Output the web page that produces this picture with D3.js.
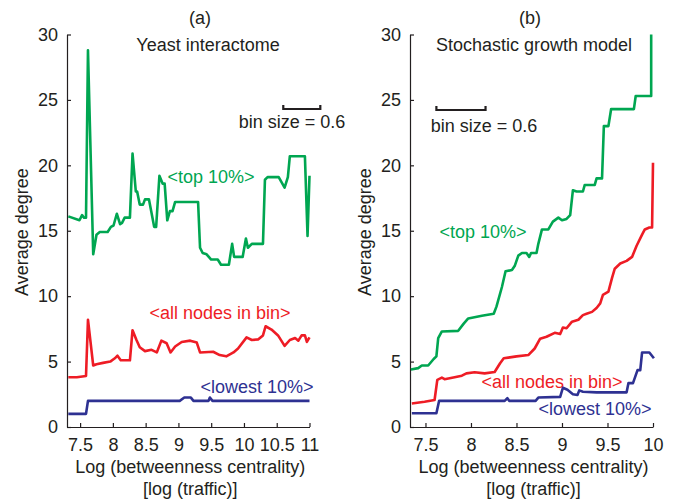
<!DOCTYPE html>
<html>
<head>
<meta charset="utf-8">
<script src="https://cdn.jsdelivr.net/npm/d3@7"></script>
<style>
  body { margin: 0; background: #fff; }
  svg text { font-family: "Liberation Sans", Arial, Helvetica, sans-serif; }
</style>
</head>
<body>
<svg id="chart" width="674" height="502"></svg>
<script>
// ---- data: [log betweenness, average degree] ----
const yeastTop = [
	[7.32, 16.1], [7.49, 15.8], [7.53, 16.2], [7.56, 16.0], [7.59, 16.0], [7.62, 28.8],
	[7.70, 13.2], [7.75, 14.7], [7.80, 14.9], [7.92, 14.9], [7.97, 15.3], [8.01, 15.4],
	[8.06, 16.3], [8.11, 15.5], [8.14, 15.6], [8.18, 16.0], [8.26, 16.0], [8.30, 20.9],
	[8.35, 18.0], [8.37, 18.0], [8.41, 17.0], [8.46, 17.0], [8.49, 17.4], [8.55, 17.4],
	[8.63, 15.3], [8.66, 15.3], [8.71, 19.2], [8.76, 18.6], [8.79, 18.6], [8.83, 15.8],
	[8.87, 16.5], [8.91, 16.5], [8.95, 17.2], [9.30, 17.2], [9.33, 13.7], [9.37, 13.3],
	[9.43, 13.2], [9.50, 12.8], [9.60, 12.8], [9.65, 12.4], [9.77, 12.4], [9.82, 14.0],
	[9.85, 13.0], [9.98, 13.0], [10.03, 14.4], [10.06, 13.7], [10.12, 14.0], [10.29, 14.0],
	[10.32, 18.9], [10.36, 19.1], [10.53, 19.1], [10.62, 18.3], [10.67, 19.1], [10.70, 20.7],
	[10.93, 20.7], [10.97, 14.6], [11.0, 19.2]
];
const yeastAll = [
	[7.32, 3.8], [7.45, 3.8], [7.59, 3.9], [7.62, 8.2], [7.70, 4.7], [7.75, 4.8],
	[7.85, 4.9], [7.96, 5.0], [8.03, 5.25], [8.07, 5.45], [8.12, 5.1], [8.26, 5.1],
	[8.30, 7.4], [8.36, 6.65], [8.41, 6.1], [8.49, 5.8], [8.59, 5.9], [8.67, 5.7],
	[8.74, 6.6], [8.82, 6.4], [8.88, 5.7], [8.95, 6.15], [9.05, 6.5], [9.18, 6.6],
	[9.28, 6.45], [9.33, 5.7], [9.53, 5.75], [9.63, 5.5], [9.73, 5.4], [9.84, 5.7],
	[9.91, 6.0], [10.04, 6.85], [10.12, 6.65], [10.22, 6.7], [10.29, 7.0], [10.33, 7.7],
	[10.42, 7.45], [10.52, 7.0], [10.62, 6.2], [10.70, 6.65], [10.78, 6.8], [10.83, 6.6],
	[10.88, 7.0], [10.93, 7.0], [10.96, 6.5], [11.0, 6.85]
];
const yeastLow = [
	[7.32, 1.0], [7.59, 1.0], [7.62, 2.0], [9.02, 2.0], [9.09, 2.25], [9.19, 2.25],
	[9.23, 2.0], [9.46, 2.0], [9.48, 2.25], [9.52, 2.0], [11.0, 2.0]
];
const modelTop = [
	[7.34, 4.4], [7.42, 4.5], [7.46, 4.7], [7.53, 4.7], [7.59, 5.2], [7.62, 5.4],
	[7.64, 6.8], [7.68, 7.3], [7.86, 7.35], [7.92, 7.9], [7.97, 8.3], [8.12, 8.5],
	[8.25, 8.65], [8.28, 9.2], [8.34, 10.7], [8.38, 11.9], [8.45, 12.0], [8.48, 12.3],
	[8.52, 13.1], [8.56, 13.3], [8.61, 13.3], [8.64, 13.0], [8.66, 13.3], [8.72, 13.3],
	[8.74, 14.0], [8.78, 15.1], [8.85, 15.1], [8.90, 15.7], [8.96, 16.0], [9.0, 15.8],
	[9.05, 15.9], [9.09, 16.2], [9.12, 18.1], [9.16, 18.0], [9.23, 18.0], [9.25, 18.5],
	[9.36, 18.5], [9.38, 19.0], [9.44, 19.0], [9.46, 23.0], [9.51, 23.0], [9.54, 24.3],
	[9.79, 24.3], [9.81, 25.3], [9.98, 25.3], [9.98, 30.0]
];
const modelAll = [
	[7.35, 1.8], [7.49, 1.93], [7.60, 2.06], [7.63, 3.6], [7.68, 3.77], [7.71, 3.65],
	[7.82, 3.8], [7.90, 3.92], [7.95, 4.1], [8.04, 4.18], [8.15, 4.1], [8.26, 4.2],
	[8.32, 4.87], [8.36, 5.25], [8.41, 5.3], [8.50, 5.4], [8.63, 5.5], [8.70, 6.0],
	[8.76, 6.75], [8.83, 6.9], [8.92, 7.2], [8.98, 7.1], [9.01, 7.6], [9.05, 7.55],
	[9.11, 8.05], [9.18, 8.2], [9.23, 8.55], [9.27, 8.65], [9.33, 8.8], [9.38, 9.1],
	[9.42, 9.45], [9.45, 10.1], [9.51, 10.35], [9.55, 11.4], [9.58, 12.1], [9.64, 12.5],
	[9.71, 12.7], [9.77, 13.0], [9.82, 13.85], [9.88, 14.7], [9.91, 15.1], [9.96, 15.25],
	[9.99, 15.25], [10.0, 20.2]
];
const modelLow = [
	[7.35, 1.05], [7.62, 1.05], [7.65, 2.0], [8.37, 2.0], [8.40, 2.2], [8.42, 2.0],
	[8.71, 2.0], [8.74, 2.25], [8.98, 2.3], [9.01, 3.0], [9.06, 2.85], [9.12, 2.5],
	[9.17, 2.45], [9.19, 2.8], [9.23, 2.7], [9.38, 2.65], [9.71, 2.65], [9.73, 3.35],
	[9.78, 3.35], [9.83, 4.35], [9.86, 4.35], [9.88, 5.7], [9.96, 5.7], [10.01, 5.25]
];

const yTicks = [0, 5, 10, 15, 20, 25, 30];
const yeastXTicks = [7.5, 8, 8.5, 9, 9.5, 10, 10.5, 11];
const modelXTicks = [7.5, 8, 8.5, 9, 9.5, 10];

const GREEN = '#00a651';
const RED = '#ee1c25';
const BLUE = '#2e3192';
const FONT = 18;

const svg = d3.select('#chart');

const y = d3.scaleLinear().domain([0, 30]).range([427, 34.5]);

const panels = [
	{
		letter: '(a)', letterX: 200, title: 'Yeast interactome', titleX: 208,
		x: d3.scaleLinear().domain([7.3, 11]).range([67, 309.5]),
		xTicks: yeastXTicks, yTitleX: 28,
		bar: [10.6, 11.165], barY: 109, binX: 292, binY: 128,
		series: [
			{ data: yeastTop, color: GREEN, label: '<top 10%>', lx: 211, ly: 183 },
			{ data: yeastAll, color: RED, label: '<all nodes in bin>', lx: 220, ly: 319 },
			{ data: yeastLow, color: BLUE, label: '<lowest 10%>', lx: 257, ly: 393 }
		]
	},
	{
		letter: '(b)', letterX: 530, title: 'Stochastic growth model', titleX: 534,
		x: d3.scaleLinear().domain([7.33, 10]).range([410, 653]),
		xTicks: modelXTicks, yTitleX: 371,
		bar: [7.62, 8.16], barY: 110, binX: 484, binY: 132,
		series: [
			{ data: modelTop, color: GREEN, label: '<top 10%>', lx: 483, ly: 238 },
			{ data: modelAll, color: RED, label: '<all nodes in bin>', lx: 552, ly: 388 },
			{ data: modelLow, color: BLUE, label: '<lowest 10%>', lx: 595, ly: 415 }
		]
	}
];

panels.forEach((p) => {
	const g = svg.append('g');

	// axes, ticks inside
	const xAxis = g.append('g')
		.attr('transform', `translate(0,${y(0)})`)
		.call(d3.axisBottom(p.x).tickValues(p.xTicks).tickFormat(d3.format('')).tickSize(-4).tickSizeOuter(0).tickPadding(11));
	const yAxis = g.append('g')
		.attr('transform', `translate(${p.x.range()[0]},0)`)
		.call(d3.axisLeft(y).tickValues(yTicks).tickSize(-4).tickSizeOuter(0).tickPadding(9));

	[xAxis, yAxis].forEach((a) => {
		a.attr('font-family', null).attr('font-size', null);
		a.selectAll('text').style('font-size', FONT + 'px').attr('fill', '#231f20');
		a.selectAll('path, line').attr('stroke', '#231f20').attr('stroke-width', 1.2);
	});

	const line = d3.line().x((d) => p.x(d[0])).y((d) => y(d[1]));

	p.series.forEach((s) => {
		g.append('path')
			.datum(s.data)
			.attr('d', line)
			.attr('fill', 'none')
			.attr('stroke', s.color)
			.attr('stroke-width', 2.6)
			.attr('stroke-linejoin', 'round');

		g.append('text')
			.attr('x', s.lx)
			.attr('y', s.ly)
			.attr('text-anchor', 'middle')
			.style('font-size', FONT + 'px')
			.attr('fill', s.color)
			.text(s.label);
	});

	// scale bar
	const bx0 = p.x(p.bar[0]);
	const bx1 = p.x(p.bar[1]);
	g.append('path')
		.attr('d', `M${bx0},${p.barY - 4}V${p.barY}H${bx1}V${p.barY - 4}`)
		.attr('fill', 'none')
		.attr('stroke', '#231f20')
		.attr('stroke-width', 2.2);
	g.append('text')
		.attr('x', p.binX).attr('y', p.binY)
		.attr('text-anchor', 'middle')
		.style('font-size', FONT + 'px')
		.attr('fill', '#231f20')
		.text('bin size = 0.6');

	// titles
	g.append('text')
		.attr('x', p.letterX).attr('y', 24)
		.attr('text-anchor', 'middle')
		.style('font-size', FONT + 'px')
		.attr('fill', '#231f20')
		.text(p.letter);
	g.append('text')
		.attr('x', p.titleX).attr('y', 51)
		.attr('text-anchor', 'middle')
		.style('font-size', FONT + 'px')
		.attr('fill', '#231f20')
		.text(p.title);

	const xMid = (p.x.range()[0] + p.x.range()[1]) / 2;
	g.append('text')
		.attr('x', xMid + 2).attr('y', 473)
		.attr('text-anchor', 'middle')
		.style('font-size', FONT + 'px')
		.attr('fill', '#231f20')
		.text('Log (betweenness centrality)');
	g.append('text')
		.attr('x', xMid + 2).attr('y', 495)
		.attr('text-anchor', 'middle')
		.style('font-size', FONT + 'px')
		.attr('fill', '#231f20')
		.text('[log (traffic)]');

	g.append('text')
		.attr('transform', `translate(${p.yTitleX},232) rotate(-90)`)
		.attr('text-anchor', 'middle')
		.style('font-size', FONT + 'px')
		.attr('fill', '#231f20')
		.text('Average degree');
});
</script>
</body>
</html>
